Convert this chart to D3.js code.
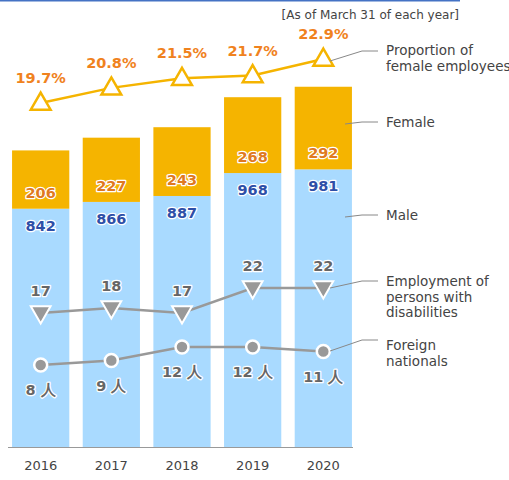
<!DOCTYPE html>
<html lang="en">
<head>
<meta charset="utf-8">
<title>Employees</title>
<style>
  body { margin: 0; background: #fff; }
  svg text { font-family: "DejaVu Sans", Verdana, sans-serif; }
  .val { font-weight: bold; font-size: 14.5px; text-anchor: middle; paint-order: stroke; stroke: #fff; stroke-width: 2.5px; stroke-linejoin: round; }
  .legend { font-size: 13.5px; fill: #444; }
</style>
</head>
<body>
<script src="https://cdnjs.cloudflare.com/ajax/libs/d3/7.8.5/d3.min.js"></script>
<script>
// data
const years = ["2016", "2017", "2018", "2019", "2020"];
const male = [842, 866, 887, 968, 981];
const female = [206, 227, 243, 268, 292];
const femaleRatio = [19.7, 20.8, 21.5, 21.7, 22.9];
const disabled = [17, 18, 17, 22, 22];
const foreign = [8, 9, 12, 12, 11];

const width = 509, height = 480;
const baseY = 447;

const svg = d3.select("body").append("svg")
  .attr("width", width).attr("height", height);

// top rule
svg.append("line").attr("x1", 0).attr("x2", 460).attr("y1", 0.5).attr("y2", 0.5)
  .attr("stroke", "#4472C4").attr("stroke-width", 2);

svg.append("text").attr("x", 459).attr("y", 19).attr("text-anchor", "end")
  .attr("font-size", 12).attr("fill", "#444").text("[As of March 31 of each year]");

// scales
const x = d3.scaleBand().domain(years).range([5, 359]).paddingInner(0.19).paddingOuter(0.1);
const y = d3.scaleLinear().domain([0, 1300]).range([baseY, baseY - 1300 * 0.283]);
const yPct = d3.scaleLinear().domain([19.7, 22.9]).range([103, 59]);
const yDis = d3.scaleLinear().domain([17, 22]).range([313, 288]);
const yFor = d3.scaleLinear().domain([8, 12]).range([365, 347]);
const cx = d => x(d) + x.bandwidth() / 2;

// stacked bars
const bars = svg.append("g");
bars.selectAll("rect.male").data(years).join("rect")
  .attr("class", "male")
  .attr("x", d => x(d)).attr("width", x.bandwidth())
  .attr("y", (d, i) => y(male[i]))
  .attr("height", (d, i) => baseY - y(male[i]))
  .attr("fill", "#A9DAFF");
bars.selectAll("rect.female").data(years).join("rect")
  .attr("class", "female")
  .attr("x", d => x(d)).attr("width", x.bandwidth())
  .attr("y", (d, i) => y(male[i] + female[i]))
  .attr("height", (d, i) => y(male[i]) - y(male[i] + female[i]))
  .attr("fill", "#F5B400");

// baseline axis
const xAxis = svg.append("g").attr("transform", `translate(0,${baseY})`)
  .call(d3.axisBottom(x).tickSize(0).tickPadding(14));
xAxis.select(".domain").attr("stroke", "#999").attr("d", "M8,0.5H353");
xAxis.selectAll("text").attr("font-size", 13).attr("fill", "#444")
  .attr("font-family", "DejaVu Sans, Verdana, sans-serif");

// bar value labels
svg.selectAll("text.male").data(years).join("text")
  .attr("class", "val").attr("x", cx)
  .attr("y", (d, i) => y(male[i]) + 22)
  .attr("fill", "#2E4FA8").text((d, i) => male[i]);
svg.selectAll("text.female").data(years).join("text")
  .attr("class", "val").attr("x", cx)
  .attr("y", (d, i) => y(male[i]) - 11)
  .attr("fill", "#E07A1F").text((d, i) => female[i]);

// female ratio line
const tri = d3.symbol().type(d3.symbolTriangle).size(170);
svg.append("path").datum(femaleRatio)
  .attr("fill", "none").attr("stroke", "#F5B400").attr("stroke-width", 2.5)
  .attr("d", d3.line().x((d, i) => cx(years[i])).y(d => yPct(d)));
svg.selectAll("path.tri").data(femaleRatio).join("path")
  .attr("class", "tri")
  .attr("transform", (d, i) => `translate(${cx(years[i])},${yPct(d) + 1})`)
  .attr("d", tri).attr("fill", "#fff").attr("stroke", "#F5B400").attr("stroke-width", 2.5);
svg.selectAll("text.pct").data(femaleRatio).join("text")
  .attr("class", "val pct").attr("x", (d, i) => cx(years[i]))
  .attr("y", d => yPct(d) - 20).attr("font-size", 16)
  .attr("fill", "#F0821E").text(d => d.toFixed(1) + "%");

// disabilities line
svg.append("path").datum(disabled)
  .attr("fill", "none").attr("stroke", "#999").attr("stroke-width", 2.5)
  .attr("d", d3.line().x((d, i) => cx(years[i])).y(d => yDis(d)));
svg.selectAll("path.dis").data(disabled).join("path")
  .attr("class", "dis")
  .attr("transform", (d, i) => `translate(${cx(years[i])},${yDis(d) - 1}) rotate(180)`)
  .attr("d", tri).attr("fill", "#999").attr("stroke", "#fff").attr("stroke-width", 2);
svg.selectAll("text.dis").data(disabled).join("text")
  .attr("class", "val dis").attr("x", (d, i) => cx(years[i]))
  .attr("y", d => yDis(d) - 17)
  .attr("fill", "#666").text(d => d);

// foreign nationals line
svg.append("path").datum(foreign)
  .attr("fill", "none").attr("stroke", "#999").attr("stroke-width", 2.5)
  .attr("d", d3.line().x((d, i) => cx(years[i])).y(d => yFor(d)));
svg.selectAll("circle.for").data(foreign).join("circle")
  .attr("class", "for").attr("cx", (d, i) => cx(years[i])).attr("cy", d => yFor(d))
  .attr("r", 6.5).attr("fill", "#999").attr("stroke", "#fff").attr("stroke-width", 2.5);
svg.selectAll("text.for").data(foreign).join("text")
  .attr("class", "val for").attr("x", (d, i) => cx(years[i]))
  .attr("y", d => yFor(d) + 30)
  .attr("fill", "#666").text(d => d + " 人");

// right-side labels with leader lines
const legend = [
  { lines: ["Proportion of", "female employees"], y: 55, from: [330, 61], to: [378, 51] },
  { lines: ["Female"], y: 127, from: [345, 124], to: [378, 122] },
  { lines: ["Male"], y: 220, from: [345, 217], to: [378, 215] },
  { lines: ["Employment of", "persons with", "disabilities"], y: 286, from: [330, 288], to: [378, 281] },
  { lines: ["Foreign", "nationals"], y: 350, from: [330, 351], to: [378, 340] }
];
legend.forEach(l => {
  svg.append("path")
    .attr("d", `M${l.from[0]},${l.from[1]}L${l.to[0] - 16},${l.to[1]}H${l.to[0]}`)
    .attr("fill", "none").attr("stroke", "#888").attr("stroke-width", 1);
  const t = svg.append("text").attr("class", "legend").attr("x", 386).attr("y", l.y);
  l.lines.forEach((s, i) => t.append("tspan").attr("x", 386).attr("dy", i ? 15.5 : 0).text(s));
});
</script>
</body>
</html>
